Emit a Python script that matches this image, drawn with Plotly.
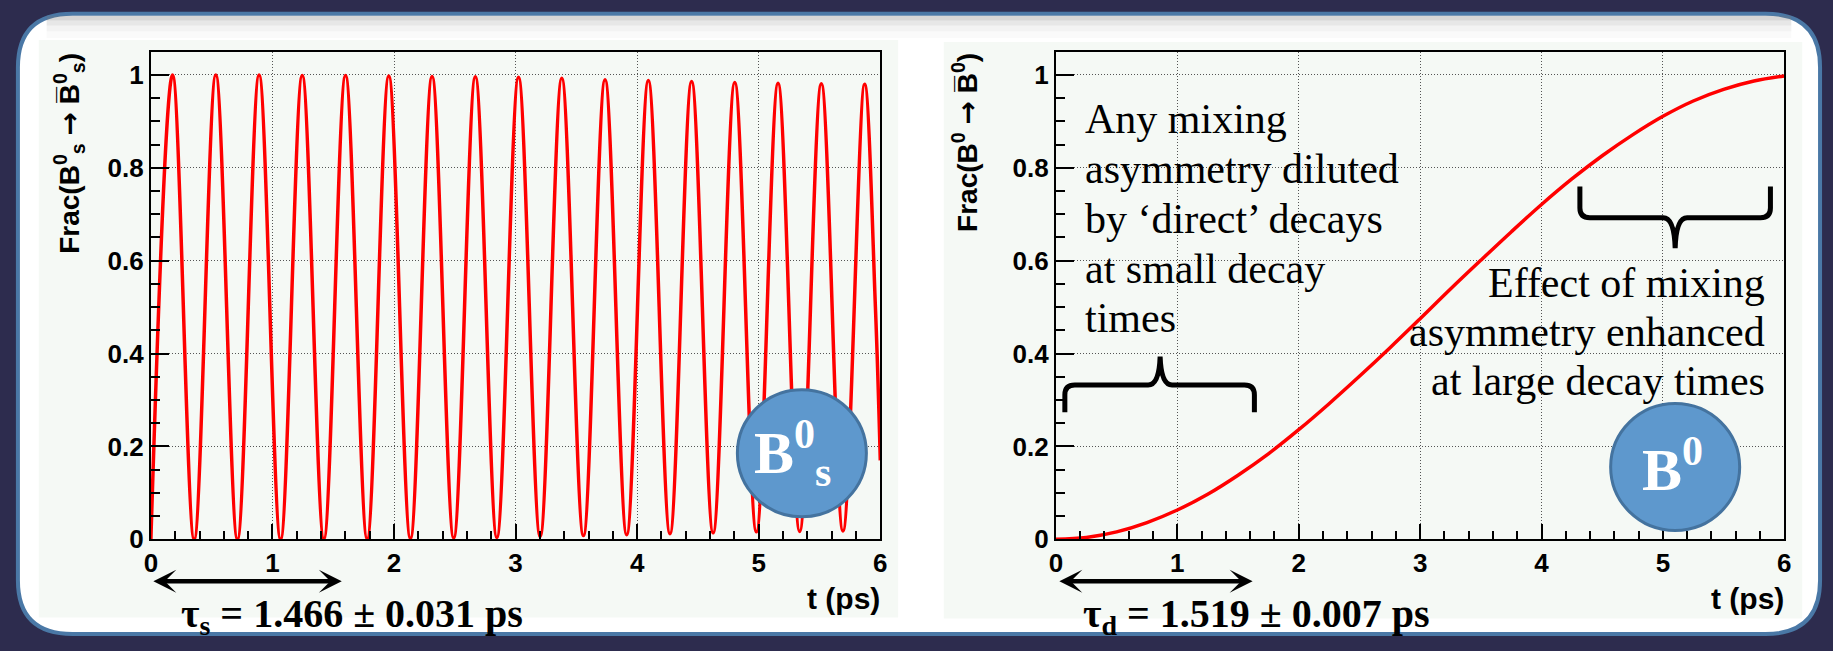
import plotly.graph_objects as go

W, H = 1833, 651

# ---------------- data ----------------
# Left panel: Bs -> anti-Bs oscillation, turning points (peaks / troughs) and end point
bs_t = [0.000, 0.178, 0.356, 0.534, 0.712, 0.890, 1.067, 1.245, 1.423, 1.601,
        1.779, 1.957, 2.135, 2.313, 2.491, 2.669, 2.846, 3.024, 3.202, 3.380,
        3.558, 3.736, 3.914, 4.092, 4.270, 4.448, 4.625, 4.803, 4.981, 5.159,
        5.337, 5.515, 5.693, 5.871, 5.960, 6.000]
bs_frac = [0.000, 1.000, 0.000, 1.000, 0.000, 1.000, 0.000, 0.999, 0.001, 0.999,
           0.001, 0.998, 0.002, 0.997, 0.003, 0.996, 0.004, 0.995, 0.006, 0.993,
           0.008, 0.990, 0.010, 0.988, 0.012, 0.986, 0.014, 0.984, 0.016, 0.982,
           0.017, 0.981, 0.018, 0.980, 0.500, 0.170]

# Right panel: B0 -> anti-B0 mixing fraction
bd_t = [0.00, 0.25, 0.50, 0.75, 1.00, 1.25, 1.50, 1.75, 2.00, 2.25, 2.50, 2.75,
        3.00, 3.25, 3.50, 3.75, 4.00, 4.25, 4.50, 4.75, 5.00, 5.25, 5.50, 5.75, 6.00]
bd_frac = [0.000, 0.004, 0.016, 0.036, 0.063, 0.097, 0.138, 0.184, 0.236, 0.292,
           0.351, 0.412, 0.475, 0.539, 0.601, 0.662, 0.721, 0.776, 0.826, 0.871,
           0.911, 0.944, 0.969, 0.987, 0.998]

x_tickvals = [0, 1, 2, 3, 4, 5, 6]
x_ticktext = ["0", "1", "2", "3", "4", "5", "6"]
y_tickvals = [0, 0.2, 0.4, 0.6, 0.8, 1.0]
y_ticktext = ["0", "0.2", "0.4", "0.6", "0.8", "1"]

ARROW = "<span style='font-family:DejaVu Sans'>\u2192</span>"
left_ytitle = "Frac(B<sup>0</sup><sub>s</sub> " + ARROW + " B\u0305<sup>0</sup><sub>s</sub>)"
right_ytitle = "Frac(B<sup>0</sup> " + ARROW + " B\u0305<sup>0</sup>)"
x_title = "t (ps)"
tau_left = "\u03c4<sub>s</sub> = 1.466 \u00b1 0.031 ps"
tau_right = "\u03c4<sub>d</sub> = 1.519 \u00b1 0.007 ps"
tau_left_span = [0.008, 1.57]
tau_right_span = [0.016, 1.62]
note_left = ["Any mixing", "asymmetry diluted", "by \u2018direct\u2019 decays",
             "at small decay", "times"]
note_right = ["Effect of mixing", "asymmetry enhanced", "at large decay times"]
badge_left = "B<sup>0</sup><sub>s</sub>"
badge_right = "B<sup>0</sup>"

# ---------------- helpers (pixel -> paper) ----------------
def X(px):
    return px / W


def Y(py):
    return 1 - py / H


def P(x, y):
    return f"{X(x):.5f},{Y(y):.5f}"


NAVY = "#2d2c4e"
BORDER = "#4a78a6"
CANVAS = "#f5f9f5"
RED = "#ff0000"
CIRCLE_FILL = "#5e98cd"
CIRCLE_LINE = "#44739f"

fig = go.Figure()

fig.add_trace(go.Scatter(x=bs_t, y=bs_frac, mode="lines",
                         line=dict(color=RED, width=3.5, shape="spline", smoothing=1),
                         xaxis="x", yaxis="y", hoverinfo="skip", showlegend=False))
fig.add_trace(go.Scatter(x=bd_t, y=bd_frac, mode="lines",
                         line=dict(color=RED, width=3.5, shape="spline", smoothing=1),
                         xaxis="x2", yaxis="y2", hoverinfo="skip", showlegend=False))

tickfont = dict(family="Liberation Sans, Arial, sans-serif", size=26, color="black", weight="bold")
common = dict(showline=True, linecolor="black", linewidth=2, mirror=True,
              ticks="inside", tickcolor="black", tickwidth=1.5,
              showgrid=True, gridcolor="#555555", griddash="1px,2px", gridwidth=1,
              zeroline=False, tickfont=tickfont, fixedrange=True)

xcommon = dict(common, range=[0, 6], tickmode="array", tickvals=x_tickvals,
               ticktext=x_ticktext, ticklen=15,
               minor=dict(ticks="inside", ticklen=8, tickwidth=1.5, tickcolor="black",
                          tickmode="linear", tick0=0, dtick=0.2, showgrid=False))
ycommon = dict(common, range=[0, 1.05], tickmode="array", tickvals=y_tickvals,
               ticktext=y_ticktext, ticklen=18,
               minor=dict(ticks="inside", ticklen=9, tickwidth=1.5, tickcolor="black",
                          tickmode="linear", tick0=0, dtick=0.05, showgrid=False))

ydom = [Y(552), Y(53)]
fig.update_layout(
    width=W, height=H, margin=dict(l=0, r=0, t=0, b=0, pad=0),
    paper_bgcolor=NAVY, plot_bgcolor=CANVAS, showlegend=False,
    xaxis=dict(xcommon, domain=[X(145), X(880)], anchor="y"),
    yaxis=dict(ycommon, domain=ydom, anchor="x"),
    xaxis2=dict(xcommon, domain=[X(1057), X(1791)], anchor="y2"),
    yaxis2=dict(ycommon, domain=ydom, anchor="x2"),
)

# ---------------- shapes ----------------
shapes = []
x0, y0, x1, y1, r = 11, 14, 1827, 649, 55
panel = ("M" + P(x0 + r, y0) + " L" + P(x1 - r, y0) + " Q" + P(x1, y0) + " " + P(x1, y0 + r)
         + " L" + P(x1, y1 - r) + " Q" + P(x1, y1) + " " + P(x1 - r, y1)
         + " L" + P(x0 + r, y1) + " Q" + P(x0, y1) + " " + P(x0, y1 - r)
         + " L" + P(x0, y0 + r) + " Q" + P(x0, y0) + " " + P(x0 + r, y0) + " Z")
shapes.append(dict(type="path", path=panel, xref="paper", yref="paper",
                   fillcolor="white", line=dict(color=BORDER, width=4), layer="below"))
# soft shadow under the top edge
for (ya, yb, a) in [(16, 21, 0.30), (21, 26, 0.18), (26, 32, 0.09), (32, 39, 0.04)]:
    shapes.append(dict(type="rect", xref="paper", yref="paper",
                       x0=X(40), x1=X(1798), y0=Y(yb), y1=Y(ya),
                       fillcolor=f"rgba(120,120,120,{a})", line=dict(width=0), layer="below"))
# chart canvases
for (cx0, cx1, cy0, cy1) in [(32, 898, 41, 632), (944, 1809, 43, 633)]:
    shapes.append(dict(type="rect", xref="paper", yref="paper",
                       x0=X(cx0), x1=X(cx1), y0=Y(cy1), y1=Y(cy0),
                       fillcolor=CANVAS, line=dict(width=0), layer="below"))
# badge circles
for (cx, cy, rr) in [(801, 464, 65), (1681, 478, 65)]:
    shapes.append(dict(type="circle", xref="paper", yref="paper",
                       x0=X(cx - rr), x1=X(cx + rr), y0=Y(cy + rr), y1=Y(cy - rr),
                       fillcolor=CIRCLE_FILL, line=dict(color=CIRCLE_LINE, width=3),
                       layer="above"))
# braces
brace_up = ("M" + P(1066, 422) + " L" + P(1066, 404) + " Q" + P(1066, 394) + " " + P(1076, 394)
            + " L" + P(1150, 394) + " Q" + P(1161, 394) + " " + P(1162, 365)
            + " Q" + P(1163, 394) + " " + P(1174, 394) + " L" + P(1247, 394)
            + " Q" + P(1257, 394) + " " + P(1257, 404) + " L" + P(1257, 422))
brace_down = ("M" + P(1585, 191) + " L" + P(1585, 213) + " Q" + P(1585, 223) + " " + P(1595, 223)
              + " L" + P(1669, 223) + " Q" + P(1680, 223) + " " + P(1681, 254)
              + " Q" + P(1682, 223) + " " + P(1693, 223) + " L" + P(1767, 223)
              + " Q" + P(1777, 223) + " " + P(1777, 213) + " L" + P(1777, 191))
for pth in (brace_up, brace_down):
    shapes.append(dict(type="path", path=pth, xref="paper", yref="paper",
                       line=dict(color="black", width=5), layer="above"))
fig.update_layout(shapes=shapes)

# ---------------- annotations ----------------
ann = []
sans_b = dict(family="Liberation Sans, Arial, sans-serif", size=28, color="black", weight="bold")
serif = dict(family="Liberation Serif, Times New Roman, serif", size=42, color="black")
serif_b = dict(family="Liberation Serif, Times New Roman, serif", size=40, color="black", weight="bold")
badge_font = dict(family="Liberation Serif, Times New Roman, serif", size=60, color="white", weight="bold")

# y titles
ann.append(dict(text=left_ytitle, x=X(63), y=Y(52), xref="paper", yref="paper",
                xanchor="center", yanchor="top", textangle=-90, showarrow=False, font=sans_b))
ann.append(dict(text=right_ytitle, x=X(966), y=Y(52), xref="paper", yref="paper",
                xanchor="center", yanchor="top", textangle=-90, showarrow=False, font=sans_b))
# x titles
for xr in (882, 1793):
    ann.append(dict(text=x_title, x=X(xr), y=Y(613), xref="paper", yref="paper",
                    xanchor="right", yanchor="middle", showarrow=False,
                    font=dict(sans_b, size=30)))
# lifetime arrows
for (xa, span) in (("x", tau_left_span), ("x2", tau_right_span)):
    ann.append(dict(text="", x=span[1], y=Y(595), xref=xa, yref="paper",
                    ax=span[0], ay=0, axref=xa, ayref="pixel", showarrow=True,
                    arrowhead=3, startarrowhead=3, arrowside="end+start",
                    arrowwidth=4.5, arrowsize=0.85, startarrowsize=0.85,
                    arrowcolor="black", standoff=0, startstandoff=0))
# lifetime texts
ann.append(dict(text=tau_left, x=X(348), y=Y(631), xref="paper", yref="paper",
                xanchor="center", yanchor="middle", showarrow=False, font=serif_b))
ann.append(dict(text=tau_right, x=X(1259), y=Y(631), xref="paper", yref="paper",
                xanchor="center", yanchor="middle", showarrow=False, font=serif_b))
# notes
for i, line in enumerate(note_left):
    ann.append(dict(text=line, x=X(1084), y=Y(122 + 51 * i), xref="paper", yref="paper",
                    xanchor="left", yanchor="middle", showarrow=False, font=serif))
for i, line in enumerate(note_right):
    ann.append(dict(text=line, x=X(1774), y=Y(290 + 50 * i), xref="paper", yref="paper",
                    xanchor="right", yanchor="middle", showarrow=False, font=serif))
# badges
ann.append(dict(text=badge_left, x=X(792), y=Y(464), xref="paper", yref="paper",
                xanchor="center", yanchor="middle", showarrow=False, font=badge_font))
ann.append(dict(text=badge_right, x=X(1678), y=Y(476), xref="paper", yref="paper",
                xanchor="center", yanchor="middle", showarrow=False, font=badge_font))
fig.update_layout(annotations=ann)

fig.write_html("out.html", config={"displayModeBar": False},
               post_script=("document.documentElement.style.margin='0';"
                            "document.documentElement.style.overflow='hidden';"
                            "document.body.style.margin='0';"
                            "document.body.style.overflow='hidden';"))
